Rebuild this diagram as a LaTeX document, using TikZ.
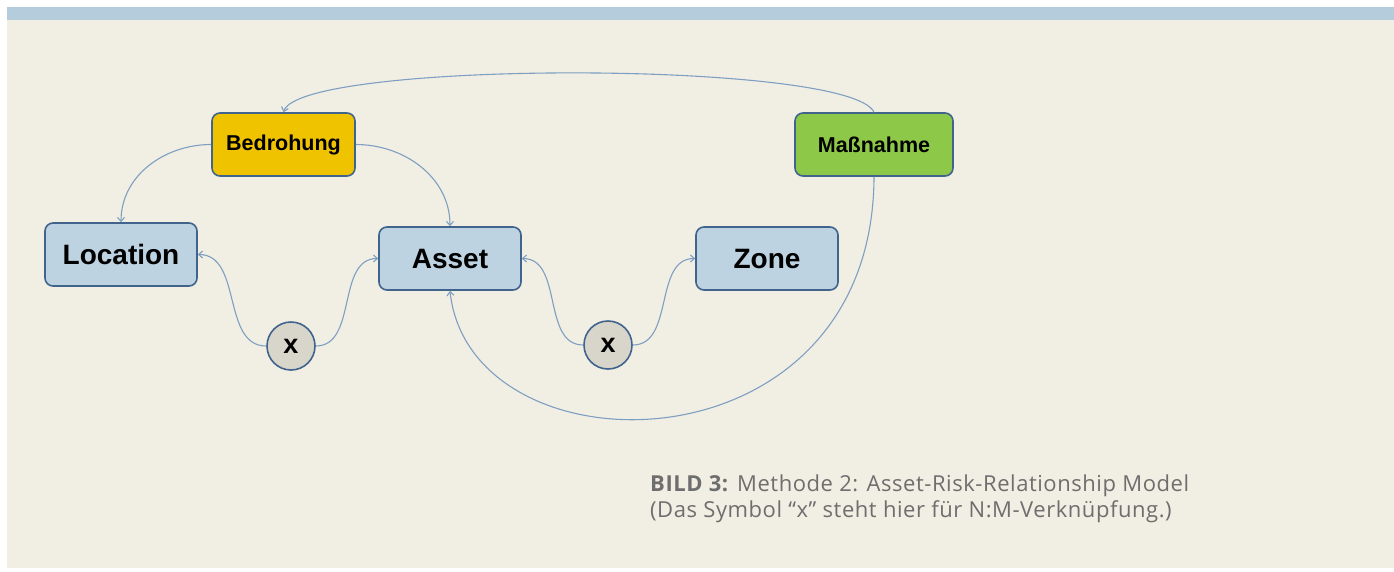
\documentclass[tikz,border=0pt]{standalone}
\usepackage{fontspec}
\setmainfont{Liberation Sans}
\newfontfamily\capfont[LetterSpace=2.5]{Open Sans}
\usetikzlibrary{arrows.meta}

\definecolor{bandblue}{HTML}{B5CCDD}
\definecolor{paper}{HTML}{F1EEE3}
\definecolor{boxline}{HTML}{41648C}
\definecolor{boxblue}{HTML}{BDD3E1}
\definecolor{boxyellow}{HTML}{F0C300}
\definecolor{boxgreen}{HTML}{8DC849}
\definecolor{nmgray}{HTML}{D8D5CB}
\definecolor{linkblue}{HTML}{7F9FC2}
\definecolor{captext}{HTML}{6E6E6E}

\begin{document}
\begin{tikzpicture}[x=1pt,y=-1pt,>={Straight Barb[length=4pt,width=7pt]},
   box/.style={draw=boxline,line width=1.6pt,rounded corners=8pt,fill=boxblue,
      minimum height=63pt,inner sep=0pt,font=\fontsize{28}{30}\selectfont\bfseries},
   smallbox/.style={box,font=\fontsize{21.5}{24}\selectfont\bfseries},
   nm/.style={circle,draw=boxline,line width=1.6pt,fill=nmgray,minimum size=48pt,
      inner sep=0pt,font=\fontsize{27}{28}\selectfont\bfseries},
   link/.style={draw=linkblue,line width=1.1pt,->},
   caption/.style={anchor=base west,inner sep=0pt,text=captext,font=\capfont\fontsize{22}{26}\selectfont}]
   \useasboundingbox (0,0) rectangle (1394,571);
   \fill [white] (0,0) rectangle (1394,571);
   \fill [paper] (7,20) rectangle (1394,568);
   \fill [bandblue] (7,7) rectangle (1394,20);

   \node[smallbox,fill=boxyellow,minimum width=143pt] (bed) at (283.5,144.5) {Bedrohung};
   \node[smallbox,fill=boxgreen,minimum width=158pt] (mass) at (874,144.5) {Maßnahme};
   \node[box,minimum width=152pt] (loc) at (121,254.5) {Location};
   \node[box,minimum width=142pt] (asset) at (450,258.5) {Asset};
   \node[box,minimum width=142pt] (zone) at (767,258.5) {Zone};
   \node[nm] (nm1) at (291,346) {x};
   \node[nm] (nm2) at (608,345) {x};

   \draw[link] (bed.west) to[out=180,in=90] (loc.north);
   \draw[link] (bed.east) to[out=0,in=90] (asset.north);
   \draw[link] (mass.north) .. controls (850,60) and (300,60) .. (bed.north);
   \draw[link] (mass.south) .. controls (873,478) and (470,478) .. (asset.south);
   \draw[link] (nm1.west) to[out=180,in=0] (loc.east);
   \draw[link] (nm1.east) to[out=0,in=180] (asset.west);
   \draw[link] (nm2.west) to[out=180,in=0] (asset.east);
   \draw[link] (nm2.east) to[out=0,in=180] (zone.west);

   \node[caption] (cap1) at (650,491) {\textbf{BILD 3:} Methode 2: Asset-Risk-Relationship Model};
   \node[caption] (cap2) at (650,517) {(Das Symbol “x” steht hier für N:M-Verknüpfung.)};
\end{tikzpicture}
\end{document}
